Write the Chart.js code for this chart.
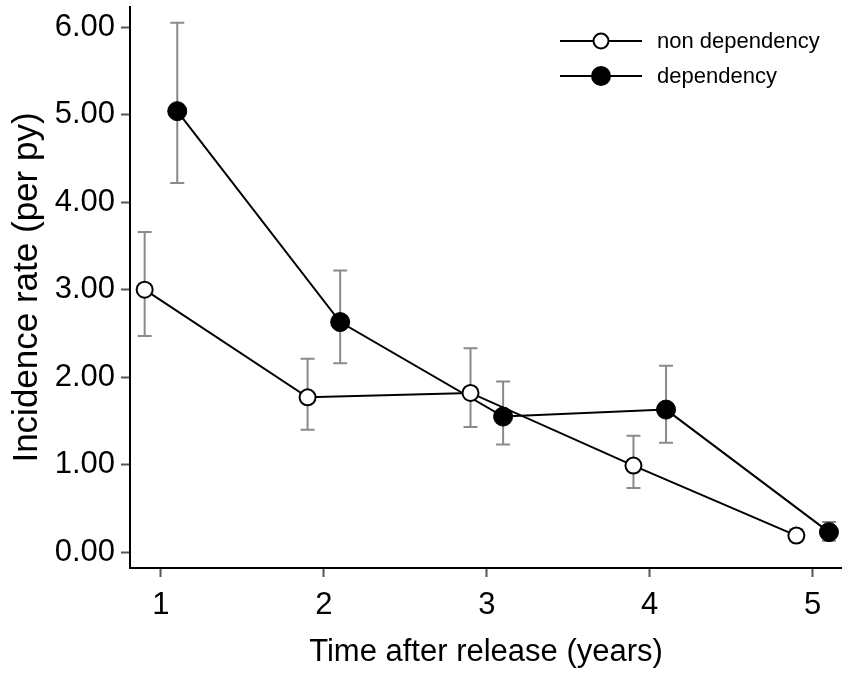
<!DOCTYPE html>
<html>
<head>
<meta charset="utf-8">
<script src="https://cdn.jsdelivr.net/npm/chart.js@4.4.0/dist/chart.umd.min.js"></script>
<style>
  html, body { margin: 0; background: #fff; overflow: hidden; }
  #wrap { width: 842px; height: 675px; }
</style>
</head>
<body>
<div id="wrap"><canvas id="rateChart"></canvas></div>
<script>
//data
const years = [1, 2, 3, 4, 5];
const xTicks = [1, 2, 3, 4, 5];
const yTicks = [0, 1, 2, 3, 4, 5, 6];

const nonDep = [3.00, 1.77, 1.82, 0.99, 0.19];
const nonDepLow = [2.47, 1.40, 1.43, 0.735, 0.13];
const nonDepHigh = [3.66, 2.21, 2.33, 1.33, 0.26];

const dep = [5.04, 2.63, 1.55, 1.63, 0.23];
const depLow = [4.22, 2.16, 1.23, 1.25, 0.13];
const depHigh = [6.05, 3.22, 1.95, 2.13, 0.345];

const shift = 0.1; // groups drawn side by side
const font = "'Liberation Sans', Arial, sans-serif";

//error bars, drawn under the markers
const errorBars = {
    id: "errorBars",
    beforeDatasetsDraw(chart) {
        const ctx = chart.ctx;
        const y = chart.scales.y;
        ctx.save();
        ctx.strokeStyle = "#8a8a8a";
        ctx.lineWidth = 2;
        chart.data.datasets.forEach((ds, i) => {
            const meta = chart.getDatasetMeta(i);
            meta.data.forEach((pt, j) => {
                const top = y.getPixelForValue(ds.errHigh[j]);
                const bot = y.getPixelForValue(ds.errLow[j]);
                ctx.beginPath();
                ctx.moveTo(pt.x, top); ctx.lineTo(pt.x, bot);
                ctx.moveTo(pt.x - 7, top); ctx.lineTo(pt.x + 7, top);
                ctx.moveTo(pt.x - 7, bot); ctx.lineTo(pt.x + 7, bot);
                ctx.stroke();
            });
        });
        ctx.restore();
    }
};

//legend in the top right corner: line with marker
const lineLegend = {
    id: "lineLegend",
    afterDraw(chart) {
        const ctx = chart.ctx;
        ctx.save();
        ctx.font = "22px " + font;
        ctx.textBaseline = "middle";
        chart.data.datasets.forEach((ds, i) => {
            const yy = 41 + i * 35;
            ctx.strokeStyle = "#000";
            ctx.lineWidth = 2;
            ctx.beginPath();
            ctx.moveTo(560, yy); ctx.lineTo(642, yy);
            ctx.stroke();
            ctx.beginPath();
            ctx.arc(601, yy, ds.pointRadius - 0.5, 0, Math.PI * 2);
            ctx.fillStyle = ds.pointBackgroundColor;
            ctx.fill();
            ctx.stroke();
            ctx.fillStyle = "#000";
            ctx.fillText(ds.label, 657, yy + 1);
        });
        ctx.restore();
    }
};

new Chart(document.getElementById("rateChart"), {
    type: "line",
    data: {
        datasets: [{
            label: "non dependency",
            data: years.map((yr, i) => ({x: yr - shift, y: nonDep[i]})),
            errLow: nonDepLow,
            errHigh: nonDepHigh,
            borderColor: "#000",
            borderWidth: 2,
            pointRadius: 8,
            pointBorderWidth: 2,
            pointBackgroundColor: "#fff",
            pointBorderColor: "#000"
        }, {
            label: "dependency",
            data: years.map((yr, i) => ({x: yr + shift, y: dep[i]})),
            errLow: depLow,
            errHigh: depHigh,
            borderColor: "#000",
            borderWidth: 2,
            pointRadius: 9.5,
            pointBorderWidth: 1,
            pointBackgroundColor: "#000",
            pointBorderColor: "#000"
        }]
    },
    options: {
        responsive: true,
        maintainAspectRatio: false,
        animation: false,
        layout: {autoPadding: false, padding: {top: 7, right: 0, left: 0, bottom: 0}},
        plugins: {legend: {display: false}, tooltip: {enabled: false}},
        scales: {
            x: {
                type: "linear",
                min: 0.81,
                max: 5.18,
                afterBuildTicks: s => { s.ticks = xTicks.map(v => ({value: v})); },
                afterFit: s => { s.height = 107; s.paddingLeft = 0; s.paddingRight = 0; },
                border: {color: "#000", width: 2},
                grid: {drawOnChartArea: false, tickLength: 9, tickWidth: 2, color: "#555"},
                ticks: {color: "#000", padding: 10, font: {family: font, size: 31}},
                title: {display: true, text: "Time after release (years)", color: "#000",
                    font: {family: font, size: 31}, padding: {top: 10, bottom: 4}}
            },
            y: {
                min: -0.18,
                max: 6.23,
                afterBuildTicks: s => { s.ticks = yTicks.map(v => ({value: v})); },
                afterFit: s => { s.width = 130; s.paddingTop = 0; s.paddingBottom = 0; },
                border: {color: "#000", width: 2},
                grid: {drawOnChartArea: false, tickLength: 9, tickWidth: 2, color: "#555"},
                ticks: {color: "#000", padding: 6, font: {family: font, size: 31},
                    callback: v => v.toFixed(2)},
                title: {display: true, text: "Incidence rate (per py)", color: "#000",
                    font: {family: font, size: 35}, padding: {top: 6, bottom: 2}}
            }
        }
    },
    plugins: [errorBars, lineLegend]
});
</script>
</body>
</html>
